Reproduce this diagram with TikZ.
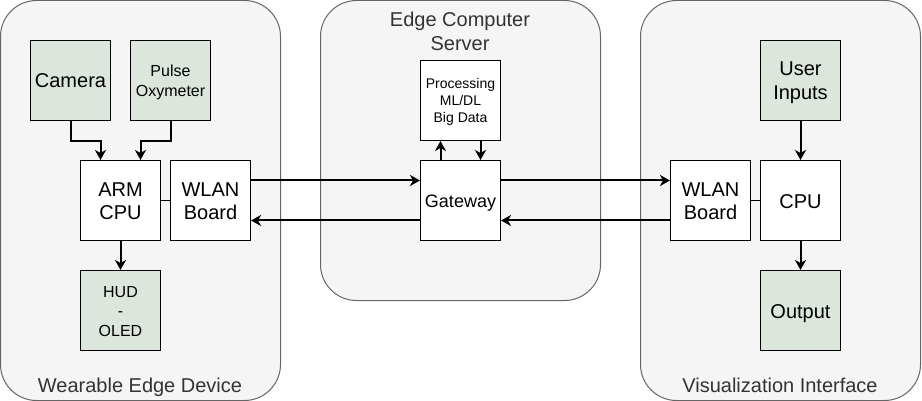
\documentclass[tikz,border=0pt]{standalone}
\usepackage{fontspec}
\setmainfont{Liberation Sans}
\usetikzlibrary{arrows.meta}
\definecolor{sensorgreen}{RGB}{220,230,220}
\definecolor{groupfill}{RGB}{245,245,245}
\definecolor{groupline}{RGB}{102,102,102}
\definecolor{grouptext}{RGB}{51,51,51}

\begin{document}
\begin{tikzpicture}[x=1pt,y=-1pt]
	\tikzset{rows/.style={execute at begin node={\rule{0pt}{\dimexpr0.975em+#1\baselineskip-\baselineskip\relax}}}}
	\tikzstyle{group} = [draw=groupline,fill=groupfill,line width=1pt,rounded corners=36pt,minimum width=280pt,inner sep=0pt]
	\tikzstyle{grouplabel} = [text=grouptext,font=\fontsize{20}{24}\selectfont,align=center]
	\tikzstyle{unit} = [draw,fill=white,line width=1pt,minimum size=80pt,inner sep=0pt,align=center,font=\fontsize{20}{24}\selectfont,
		rows=1,execute at end node={\rule[-0.225em]{0pt}{0pt}}]
	\tikzstyle{sensor} = [unit,fill=sensorgreen]
	\tikzstyle{flow} = [-{Stealth[length=10pt,width=11pt,inset=3pt]},line width=2pt]
	\tikzstyle{link} = [line width=1.5pt]

	\useasboundingbox (0,0) rectangle (922,401);

	% GROUPS %
	\node[group,minimum height=400pt] (wearable) at (140.5,200.5) {};
	\node[group,minimum height=300pt] (server) at (460.5,150.5) {};
	\node[group,minimum height=400pt] (visual) at (780.5,200.5) {};
	\node[grouplabel,anchor=base] (wearablelbl) at (140,392.5) {Wearable Edge Device};
	\node[grouplabel] (serverlbl) at (460,31) {Edge Computer\\Server};
	\node[grouplabel,anchor=base] (visuallbl) at (780,392.5) {Visualization Interface};

	% NODES %
	\node[sensor] (cam) at (70.5,80.5) {Camera};
	\node[sensor,font=\fontsize{16}{19.5}\selectfont,rows=2] (pulse) at (170.5,80.5) {Pulse\\Oxymeter};
	\node[unit,rows=2] (arm) at (120.5,200.5) {ARM\\CPU};
	\node[unit,rows=2] (wlanL) at (210.5,200.5) {WLAN\\Board};
	\node[sensor,font=\fontsize{16}{19.5}\selectfont,rows=3] (hud) at (120.5,310.5) {HUD\\-\\OLED};

	\node[unit,font=\fontsize{14}{16.8}\selectfont,rows=3] (proc) at (460.5,100.5) {Processing\\ML/DL\\Big Data};
	\node[unit,font=\fontsize{18}{21.6}\selectfont] (gw) at (460.5,200.5) {Gateway};

	\node[unit,rows=2] (wlanR) at (710.5,200.5) {WLAN\\Board};
	\node[unit] (cpu) at (800.5,200.5) {CPU};
	\node[sensor,rows=2] (user) at (800.5,80.5) {User\\Inputs};
	\node[sensor] (out) at (800.5,310.5) {Output};

	% EDGES %
	%wearable
	\draw[flow] (cam.south) -- ++(0,20) -| ([xshift=-20pt]arm.north);
	\draw[flow] (pulse.south) -- ++(0,20) -| ([xshift=20pt]arm.north);
	\draw[flow] (arm) -- (hud);
	\draw[link] (arm) -- (wlanL);
	%wireless
	\draw[flow] ([yshift=20pt]wlanL.east) -- ([yshift=20pt]gw.west);
	\draw[flow] ([yshift=-20pt]gw.west) -- ([yshift=-20pt]wlanL.east);
	\draw[flow] ([yshift=20pt]gw.east) -- ([yshift=20pt]wlanR.west);
	\draw[flow] ([yshift=-20pt]wlanR.west) -- ([yshift=-20pt]gw.east);
	%server
	\draw[flow] ([xshift=-20pt]gw.north) -- ([xshift=-20pt]proc.south);
	\draw[flow] ([xshift=20pt]proc.south) -- ([xshift=20pt]gw.north);
	%interface
	\draw[link] (wlanR) -- (cpu);
	\draw[flow] (user) -- (cpu);
	\draw[flow] (cpu) -- (out);
\end{tikzpicture}
\end{document}
